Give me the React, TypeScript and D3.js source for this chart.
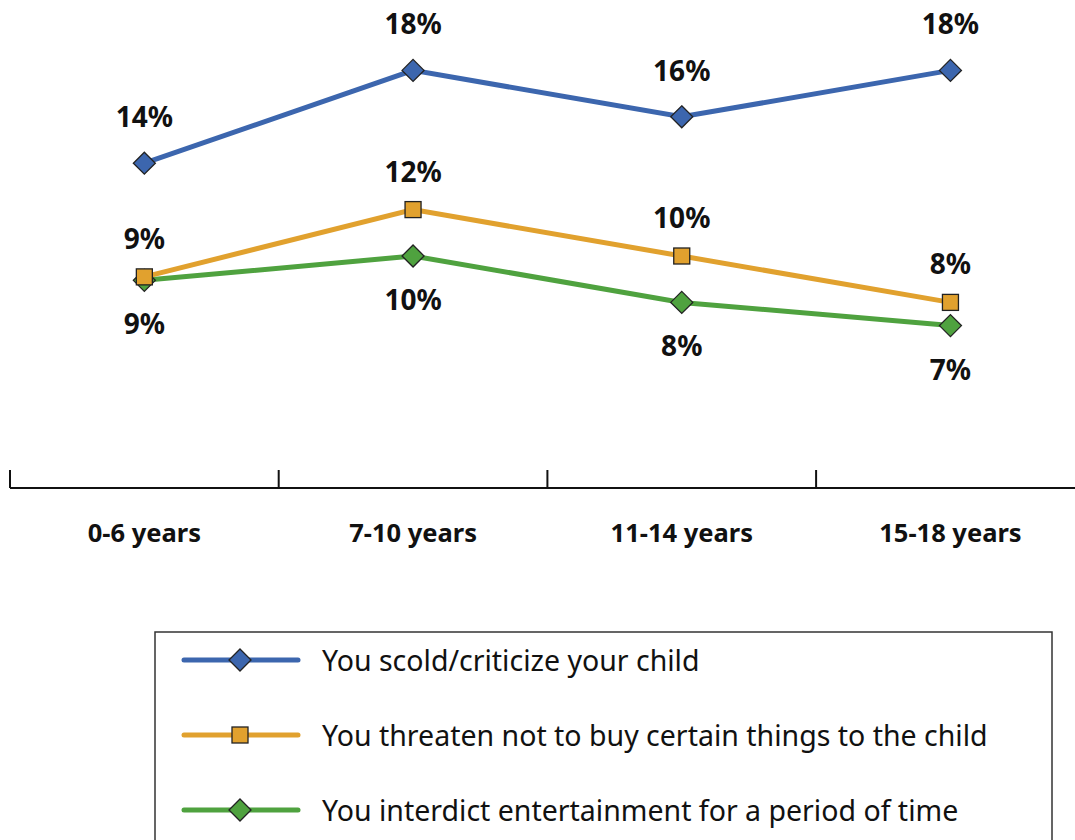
import React from 'react';
import * as d3 from 'd3';

const categories = ['0-6 years', '7-10 years', '11-14 years', '15-18 years'];
const scoldValues = [14, 18, 16, 18];
const threatenValues = [9.1, 12, 10, 8];
const interdictValues = [8.95, 10, 8, 7];

const seriesNames = [
  'You scold/criticize your child',
  'You threaten not to buy certain things to the child',
  'You interdict entertainment for a period of time',
];

const W = 1075;
const H = 840;
const FONT = '"Noto Sans", "Open Sans", sans-serif';

const series = [
  { name: seriesNames[0], values: scoldValues, color: '#3C66AE', marker: 'diamond', labelDy: -47, labels: ['14%', '18%', '16%', '18%'] },
  { name: seriesNames[1], values: threatenValues, color: '#E1A12E', marker: 'square', labelDy: -39, labels: ['9%', '12%', '10%', '8%'] },
  { name: seriesNames[2], values: interdictValues, color: '#4FA23F', marker: 'diamond', labelDy: 43, labels: ['9%', '10%', '8%', '7%'] },
];

const Marker = ({ type, x, y, color }: { type: string; x: number; y: number; color: string }) => {
  if (type === 'square') {
    return <rect x={x - 8} y={y - 8} width={16} height={16} fill={color} stroke="#222" strokeWidth={1.3} />;
  }
  const r = 11;
  return (
    <path
      d={`M${x},${y - r}L${x + r},${y}L${x},${y + r}L${x - r},${y}Z`}
      fill={color}
      stroke="#222"
      strokeWidth={1.3}
    />
  );
};

const App: React.FC = () => {
  const x = d3.scaleBand<string>().domain(categories).range([10, 10 + 4 * 268.7]).padding(0);
  const y = d3.scaleLinear().domain([0, 20]).range([488, 488 - 20 * 23.2]);
  const cx = (c: string) => (x(c) || 0) + x.bandwidth() / 2;

  const line = d3
    .line<number>()
    .x((_, i) => cx(categories[i]))
    .y((d) => y(d));

  const tickXs = categories.map((c) => x(c) || 0);

  return (
    <div style={{ position: 'absolute', left: 0, top: 0 }}>
      <svg width={W} height={H} style={{ display: 'block', background: '#fff' }} fontFamily={FONT}>
        {/* axis */}
        <line x1={tickXs[0]} x2={W} y1={y(0)} y2={y(0)} stroke="#111" strokeWidth={2} />
        {tickXs.map((tx, i) => (
          <line key={i} x1={tx} x2={tx} y1={y(0) - 18} y2={y(0)} stroke="#111" strokeWidth={2} />
        ))}
        {categories.map((c) => (
          <text key={c} x={cx(c)} y={532} textAnchor="middle" dominantBaseline="central" fontSize={25.5} fontWeight="bold" fill="#111">
            {c}
          </text>
        ))}

        {/* lines - draw green first so orange sits on top */}
        {[2, 1, 0].map((si) => {
          const s = series[si];
          return (
            <g key={s.name}>
              <path d={line(s.values) || ''} fill="none" stroke={s.color} strokeWidth={5} />
            </g>
          );
        })}
        {[2, 1, 0].map((si) => {
          const s = series[si];
          return (
            <g key={s.name + '-m'}>
              {s.values.map((v, i) => (
                <Marker key={i} type={s.marker} x={cx(categories[i])} y={y(v)} color={s.color} />
              ))}
            </g>
          );
        })}
        {series.map((s) => (
          <g key={s.name + '-l'}>
            {s.values.map((v, i) => (
              <text
                key={i}
                x={cx(categories[i])}
                y={y(v) + s.labelDy}
                textAnchor="middle"
                dominantBaseline="central"
                fontSize={28}
                fontWeight="bold"
                fill="#111"
              >
                {s.labels[i]}
              </text>
            ))}
          </g>
        ))}

        {/* legend */}
        <rect x={155} y={632} width={897} height={230} fill="none" stroke="#333" strokeWidth={1.5} />
        {series.map((s, i) => {
          const ly = 660 + i * 75;
          return (
            <g key={s.name + '-leg'}>
              <line x1={184} x2={298} y1={ly} y2={ly} stroke={s.color} strokeWidth={5} strokeLinecap="round" />
              <Marker type={s.marker} x={240} y={ly} color={s.color} />
              <text x={322} y={ly} dominantBaseline="central" fontSize={28.5} fill="#111">
                {s.name}
              </text>
            </g>
          );
        })}
      </svg>
    </div>
  );
};

export default App;
